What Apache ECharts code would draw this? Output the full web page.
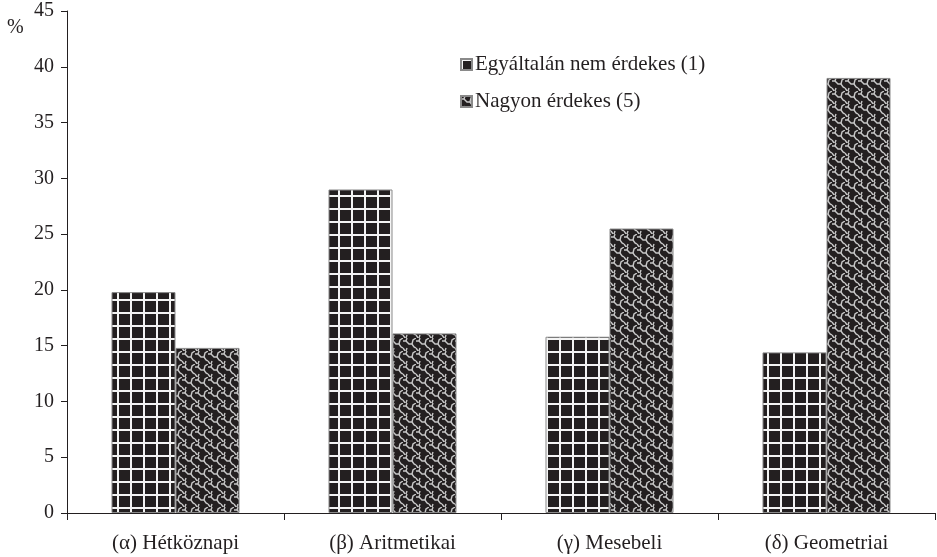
<!DOCTYPE html>
<html>
<head>
<meta charset="utf-8">
<script src="https://cdn.jsdelivr.net/npm/echarts@6/dist/echarts.min.js"></script>
<style>html,body{margin:0;padding:0;background:#fff;}#chart{width:937px;height:557px;}</style>
</head>
<body>
<div id="chart"></div>
<script>
const categories = ['(α) Hétköznapi', '(β) Aritmetikai', '(γ) Mesebeli', '(δ) Geometriai'];
const seriesNames = ['Egyáltalán nem érdekes (1)', 'Nagyon érdekes (5)'];
const notInterested = [19.8, 29.0, 15.8, 14.4];
const veryInterested = [14.8, 16.1, 25.5, 39.0];
const yMin = 0, yMax = 45, yStep = 5;

function gridPattern() {
  const c = document.createElement('canvas');
  c.width = 13; c.height = 13;
  const g = c.getContext('2d');
  g.fillStyle = '#231f20'; g.fillRect(0, 0, 13, 13);
  g.fillStyle = '#f4f4f4';
  g.fillRect(0, 0, 2, 13);
  g.fillRect(0, 0, 13, 2);
  return c;
}
function wavePattern() {
  const c = document.createElement('canvas');
  c.width = 13; c.height = 13;
  const g = c.getContext('2d');
  g.fillStyle = '#231f20'; g.fillRect(0, 0, 13, 13);
  g.strokeStyle = '#c8c8c8'; g.lineWidth = 1.4;
  g.beginPath();
  g.moveTo(0, 3); g.lineTo(3, 3); g.lineTo(6, 6); g.lineTo(9, 6); g.lineTo(11, 9); g.lineTo(13, 10);
  g.stroke();
  g.beginPath();
  g.moveTo(3, 3); g.lineTo(4, 0);
  g.moveTo(3, 13); g.lineTo(4, 10); g.lineTo(3, 13);
  g.moveTo(9, 6); g.lineTo(10, 2); g.lineTo(13, 0);
  g.moveTo(0, 10); g.lineTo(2, 13);
  g.stroke();
  return c;
}

const chart = echarts.init(document.getElementById('chart'));
const font = '"Liberation Serif", "Times New Roman", serif';
chart.setOption({
  animation: false,
  textStyle: { fontFamily: font },
  grid: { left: 67, right: 2, top: 11, bottom: 44 },
  legend: {
    orient: 'vertical', left: 455, top: 49, itemWidth: 11, itemHeight: 11, itemGap: 16,
    icon: 'rect',
    textStyle: { fontFamily: font, fontSize: 21, color: '#231f20', padding: [0, 0, 0, -2] },
    data: seriesNames
  },
  graphic: [{ type: 'text', left: 7, top: 18, style: { text: '%', font: '20px ' + font, fill: '#231f20' } }],
  xAxis: {
    type: 'category', data: categories,
    axisLine: { lineStyle: { color: '#231f20', width: 1 } },
    axisTick: { show: true, length: 7, lineStyle: { color: '#231f20' } },
    axisLabel: { fontFamily: font, fontSize: 21, color: '#231f20', margin: 20 }
  },
  yAxis: {
    type: 'value', min: yMin, max: yMax, interval: yStep,
    axisLine: { show: true, lineStyle: { color: '#231f20', width: 1 } },
    axisTick: { show: true, length: 6, lineStyle: { color: '#231f20' } },
    splitLine: { show: false },
    axisLabel: { fontFamily: font, fontSize: 20, color: '#231f20', margin: 13 }
  },
  series: [
    { name: seriesNames[0], type: 'bar', data: notInterested, barGap: '0%', barCategoryGap: '41%',
      itemStyle: { color: { image: gridPattern(), repeat: 'repeat' }, borderColor: '#8a8a8a', borderWidth: 1 } },
    { name: seriesNames[1], type: 'bar', data: veryInterested, barGap: '0%', barCategoryGap: '41%',
      itemStyle: { color: { image: wavePattern(), repeat: 'repeat' }, borderColor: '#8a8a8a', borderWidth: 1 } }
  ]
});
</script>
</body>
</html>
